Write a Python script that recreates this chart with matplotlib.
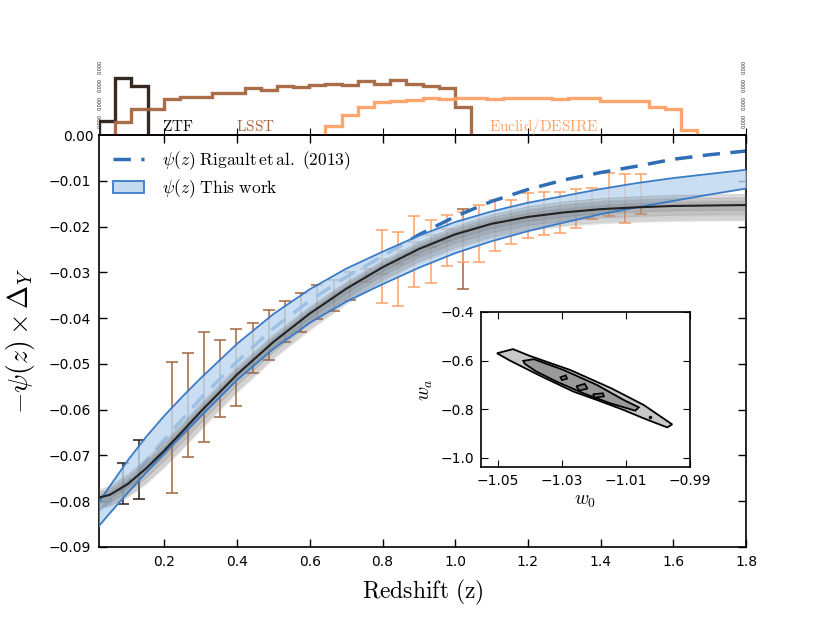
import numpy as np
import matplotlib
matplotlib.use("Agg")
import matplotlib.pyplot as plt
from matplotlib.lines import Line2D
from matplotlib.patches import Patch

plt.rcParams['mathtext.fontset'] = 'cm'
plt.rcParams['font.family'] = ['DejaVu Sans']

# ---------------- data ----------------
# redshift grid for the curves
z_grid = [0.02, 0.05, 0.1, 0.15, 0.2, 0.25, 0.3, 0.4, 0.5, 0.6, 0.7, 0.8, 0.9,
          1.0, 1.1, 1.2, 1.3, 1.4, 1.5, 1.6, 1.7, 1.8]
best_fit = [-0.0792, -0.0786, -0.0762, -0.0728, -0.0689, -0.0647, -0.0604, -0.0523,
            -0.0452, -0.0390, -0.0336, -0.0289, -0.0249, -0.0217, -0.0194, -0.0179,
            -0.0169, -0.0162, -0.0158, -0.0155, -0.0154, -0.0153]
gray_hi = [-0.0774, -0.0766, -0.0740, -0.0706, -0.0668, -0.0627, -0.0585, -0.0505,
           -0.0435, -0.0374, -0.0320, -0.0274, -0.0233, -0.0199, -0.0173, -0.0155,
           -0.0144, -0.0137, -0.0133, -0.0130, -0.0129, -0.0128]
gray_lo = [-0.0815, -0.0812, -0.0792, -0.0763, -0.0727, -0.0687, -0.0645, -0.0563,
           -0.0490, -0.0427, -0.0370, -0.0320, -0.0280, -0.0249, -0.0226, -0.0210,
           -0.0200, -0.0194, -0.0191, -0.0189, -0.0188, -0.0188]
band_hi = [-0.0801, -0.0767, -0.0710, -0.0659, -0.0613, -0.0571, -0.0531, -0.0456,
           -0.0391, -0.0337, -0.0292, -0.0255, -0.0220, -0.0190, -0.0167, -0.0148,
           -0.0133, -0.0118, -0.0105, -0.0094, -0.0085, -0.0076]
band_lo = [-0.0854, -0.0826, -0.0781, -0.0737, -0.0695, -0.0654, -0.0614, -0.0535,
           -0.0467, -0.0410, -0.0364, -0.0326, -0.0290, -0.0258, -0.0232, -0.0210,
           -0.0191, -0.0173, -0.0158, -0.0144, -0.0130, -0.0117]
rigault = [-0.0820, -0.0800, -0.0760, -0.0712, -0.0665, -0.0620, -0.0575, -0.0495,
           -0.0422, -0.0362, -0.0310, -0.0265, -0.0218, -0.0178, -0.0145, -0.0119,
           -0.0098, -0.0082, -0.0068, -0.0053, -0.0043, -0.0035]

# histogram binning (redshift)
z_min, z_max, n_bins = 0.02, 1.8, 40
ztf_first_bin, ztf_hist = 0, [14.3, 57.0, 49.3]
lsst_first_bin, lsst_hist = 1, [12.6, 26.0, 26.0, 36.0, 38.3, 38.3, 42.0, 42.0, 46.6, 45.0,
                                49.3, 48.5, 50.0, 51.0, 50.0, 54.3, 51.0, 55.3, 51.0, 49.3,
                                47.0, 28.3]
euclid_first_bin, euclid_hist = 14, [8.7, 20.3, 27.7, 33.3, 34.3, 35.3, 37.3, 36.3, 36.7,
                                     37.3, 36.0, 37.0, 37.0, 36.7, 36.0, 36.7, 36.7, 34.3,
                                     34.3, 33.7, 27.7, 26.0, 5.3]

# binned residuals (error bars at bin centres): lower and upper ends
ztf_bins = [1, 2]
ztf_lo = [-0.0805, -0.0795]
ztf_hi = [-0.0717, -0.0667]
lsst_bins = list(range(4, 23))
lsst_lo = [-0.0783, -0.0703, -0.0671, -0.0615, -0.0591, -0.0519, -0.0492, -0.0452, -0.0431,
           -0.0403, -0.0384, -0.0360, -0.0322, -0.0303, -0.0282, -0.0262, -0.0245, -0.0232,
           -0.0336]
lsst_hi = [-0.0495, -0.0476, -0.0431, -0.0448, -0.0424, -0.0410, -0.0382, -0.0363, -0.0346,
           -0.0328, -0.0317, -0.0300, -0.0292, -0.0270, -0.0252, -0.0234, -0.0219, -0.0206,
           -0.0162]
euclid_bins = list(range(17, 34))
euclid_lo = [-0.0366, -0.0373, -0.0331, -0.0324, -0.0286, -0.0277, -0.0278, -0.0253, -0.0239,
             -0.0226, -0.0218, -0.0213, -0.0204, -0.0183, -0.0177, -0.0192, -0.0173]
euclid_hi = [-0.0208, -0.0211, -0.0178, -0.0186, -0.0175, -0.0168, -0.0152, -0.0142, -0.0142,
             -0.0127, -0.0125, -0.0124, -0.0118, -0.0115, -0.0084, -0.0085, -0.0086]

# inset (w0, wa) contour outlines
c68_w0 = [-1.0503, -1.0453, -1.0401, -1.0275, -1.0146, -1.00445, -0.99556, -0.99712,
          -1.00445, -1.0107, -1.0191, -1.0264, -1.0359, -1.0463]
c68_wa = [-0.570, -0.553, -0.5807, -0.6386, -0.7144, -0.7834, -0.8634, -0.8758,
          -0.8386, -0.804, -0.7627, -0.7282, -0.6689, -0.600]
c38_w0 = [-1.0421, -1.0388, -1.0296, -1.0191, -1.0107, -1.0060, -1.0071, -1.0149,
          -1.0233, -1.0317, -1.0380, -1.0416]
c38_wa = [-0.6014, -0.5945, -0.6386, -0.7006, -0.7627, -0.7930, -0.8068, -0.7765,
          -0.7351, -0.6868, -0.6455, -0.6138]
peak1_w0 = [-1.0305, -1.0288, -1.0284, -1.0300]
peak1_wa = [-0.669, -0.661, -0.675, -0.681]
peak2_w0 = [-1.0255, -1.0229, -1.0220, -1.0246]
peak2_wa = [-0.706, -0.696, -0.716, -0.724]
peak3_w0 = [-1.0203, -1.0172, -1.0169, -1.0198]
peak3_wa = [-0.739, -0.735, -0.748, -0.753]

# ---------------- styling ----------------
c_ztf = '#2a1d16'
c_lsst = '#a5653f'
c_euclid = '#fda267'
c_band = '#3a7bc8'
c_rig = '#2f6db5'

fig = plt.figure(figsize=(8.3, 6.23), dpi=100)
W, H = 830.0, 623.0
ax = fig.add_axes([99 / W, 76 / H, 647 / W, 412 / H])
axh = fig.add_axes([99 / W, 488 / H, 647 / W, 75 / H])
axi = fig.add_axes([481 / W, 156 / H, 209 / W, 155 / H])

edges = np.linspace(z_min, z_max, n_bins + 1)
centers = 0.5 * (edges[:-1] + edges[1:])

# ---------- histogram panel ----------
for first, vals, col in [(ztf_first_bin, ztf_hist, c_ztf),
                         (lsst_first_bin, lsst_hist, c_lsst),
                         (euclid_first_bin, euclid_hist, c_euclid)]:
    e = edges[first:first + len(vals) + 1]
    axh.stairs(vals, e, baseline=0, color=col, lw=2.4, alpha=0.95)
axh.set_xlim(z_min, z_max)
axh.set_ylim(0, 75)
for s in ['top', 'left', 'right']:
    axh.spines[s].set_visible(False)
axh.spines['bottom'].set_linewidth(1.2)
axh.set_xticks([0.2, 0.4, 0.6, 0.8, 1.0, 1.2, 1.4, 1.6, 1.8])
axh.tick_params(axis='x', direction='in', length=5, labelbottom=False)
axh.set_yticks([0, 14.5, 32.5, 50.5, 68.5])
axh.set_yticklabels(['0.00', '', '', '', ''])
axh.tick_params(axis='y', direction='in', length=0, labelsize=10, pad=4)
for yv in [14.5, 32.5, 50.5, 68.5]:
    for xv in [0.024, 1.796]:
        axh.text(xv, yv, '0.000', rotation=90, fontsize=3.5, color='#222222',
                 ha='center', va='center')
axh.patch.set_alpha(0)
axh.text(0.236, 8.3, r'$\mathrm{ZTF}$', color='black', fontsize=11, ha='center', va='center')
axh.text(0.4495, 8.3, r'$\mathrm{LSST}$', color=c_lsst, fontsize=11, ha='center', va='center')
axh.text(1.2426, 8.3, r'$\mathrm{Euclid/DESIRE}$', color=c_euclid, fontsize=11,
         ha='center', va='center')

# ---------- main panel ----------
ek = dict(fmt='none', capsize=4, elinewidth=1.1, capthick=1.1, zorder=2)
for bins, lo, hi, col in [(ztf_bins, ztf_lo, ztf_hi, c_ztf),
                          (lsst_bins, lsst_lo, lsst_hi, c_lsst),
                          (euclid_bins, euclid_lo, euclid_hi, c_euclid)]:
    lo = np.array(lo); hi = np.array(hi)
    mid = 0.5 * (lo + hi)
    ax.errorbar(centers[bins], mid, yerr=0.5 * (hi - lo), ecolor=col, **ek)

zg = np.array(z_grid)
bf = np.array(best_fit)
ghi = np.array(gray_hi)
glo = np.array(gray_lo)

ax.plot(zg, rigault, color=c_rig, lw=2.5, dashes=(5, 3), zorder=2.5)

# band (semi-opaque) over the data and Rigault curve
ax.fill_between(zg, band_lo, band_hi, color='#bcd6ef', alpha=0.8, lw=0, zorder=3)

# bundle of realisations
ax.fill_between(zg, glo, ghi, color='0.5', alpha=0.2, lw=0, zorder=4)
for f in [0.3, 0.55, 0.8]:
    ax.fill_between(zg, bf + f * (glo - bf), bf + f * (ghi - bf), color='0.4',
                    alpha=0.15, lw=0, zorder=4)
for f in [-0.9, -0.6, -0.3, 0.3, 0.6, 0.9]:
    off = np.where(f > 0, ghi - bf, bf - glo)
    ax.plot(zg, bf + f * off, color='0.5', lw=0.8, alpha=0.25, zorder=4)

ax.plot(zg, band_hi, color=c_band, lw=1.3, zorder=5)
ax.plot(zg, band_lo, color=c_band, lw=1.3, zorder=5)
ax.plot(zg, bf, color='#222222', lw=1.5, zorder=6)

ax.set_xlim(z_min, z_max)
ax.set_ylim(-0.09, 0.0)
ax.set_xticks([0.2, 0.4, 0.6, 0.8, 1.0, 1.2, 1.4, 1.6, 1.8])
ax.set_yticks([-0.09, -0.08, -0.07, -0.06, -0.05, -0.04, -0.03, -0.02, -0.01])
ax.set_yticklabels(['−0.09', '−0.08', '−0.07', '−0.06', '−0.05', '−0.04', '−0.03',
                    '−0.02', '−0.01'])
ax.tick_params(direction='in', top=True, right=True, length=6, width=1, labelsize=10, pad=6)
for s in ax.spines.values():
    s.set_linewidth(1.2)
ax.set_xlabel(r'$\mathrm{Redshift\ (z)}$', fontsize=17, labelpad=6)
ax.set_ylabel(r'$-\psi(z)\times\Delta_Y$', fontsize=20, labelpad=8)

h1 = Line2D([], [], color=c_rig, lw=2.5, dashes=(5, 3))
h2 = Patch(facecolor='#c5dcf0', edgecolor=c_band, lw=1.3)
ax.legend([h1, h2], [r'$\psi(z)\ \mathrm{Rigault\,et\,al.\ (2013)}$',
                     r'$\psi(z)\ \mathrm{This\ work}$'],
          loc='upper left', bbox_to_anchor=(0.0, 1.0), frameon=False, fontsize=12.5,
          handlelength=1.8, handletextpad=1.0, borderaxespad=0.4, labelspacing=0.3)

# ---------- inset ----------
axi.fill(c68_w0, c68_wa, facecolor='#c8c8c8', edgecolor='black', lw=1.3, zorder=2)
axi.fill(c38_w0, c38_wa, facecolor='#9a9a9a', edgecolor='black', lw=1.3, zorder=3)
for pw, pa in [(peak1_w0, peak1_wa), (peak2_w0, peak2_wa), (peak3_w0, peak3_wa)]:
    axi.fill(pw, pa, facecolor='#777777', edgecolor='black', lw=1.2, zorder=4)
axi.plot([-1.0026], [-0.832], marker='o', ms=1.5, color='black', zorder=5)
axi.set_xlim(-1.0553, -0.99)
axi.set_ylim(-1.039, -0.4)
axi.set_xticks([-1.05, -1.03, -1.01, -0.99])
axi.set_yticks([-1.0, -0.8, -0.6, -0.4])
axi.tick_params(direction='in', top=True, right=True, length=5, labelsize=10, pad=5)
for s in axi.spines.values():
    s.set_linewidth(1.2)
axi.set_xlabel(r'$w_0$', fontsize=14, labelpad=2)
axi.set_ylabel(r'$w_a$', fontsize=14, labelpad=4)

fig.savefig('out.png', dpi=100)
